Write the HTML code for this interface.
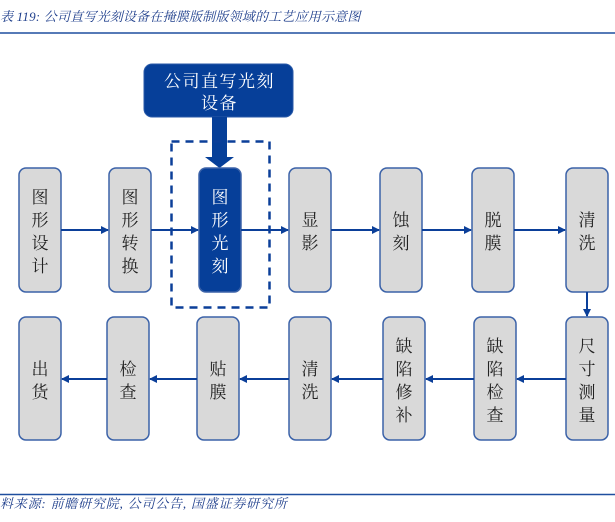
<!DOCTYPE html>
<html><head><meta charset="utf-8"><style>
html,body{margin:0;padding:0;background:#fff;width:615px;height:522px;overflow:hidden}
svg{display:block}
.t{font-family:"Liberation Serif","Noto Serif CJK SC",serif;font-size:17px;fill:#222;text-anchor:middle}
.ti{font-family:"Liberation Serif","Noto Serif CJK SC",serif;font-style:italic;font-size:13px;fill:#1f3f8c}
</style></head><body>
<svg width="615" height="522" viewBox="0 0 615 522" xmlns="http://www.w3.org/2000/svg">
<defs><marker id="a" markerWidth="8" markerHeight="8" refX="7" refY="4" orient="auto" markerUnits="userSpaceOnUse" viewBox="0 0 8 8"><path d="M0,0L8,4L0,8z" fill="#0b3f99"/></marker></defs>
<text class="ti" x="0" y="21" style="letter-spacing:0.2px">表 119:  公司直写光刻设备在掩膜版制版领域的工艺应用示意图</text>
<line x1="0" y1="33" x2="615" y2="33" stroke="#1f4f9f" stroke-width="1.5"/>
<rect x="144" y="64" width="149" height="53" rx="8" fill="#063f99" stroke="#2a5aa8"/>
<text class="t" x="219.5" y="87" style="fill:#fff;font-size:17px;letter-spacing:1.5px">公司直写光刻</text>
<text class="t" x="219.5" y="109" style="fill:#fff;font-size:17px;letter-spacing:1.5px">设备</text>
<path d="M212,117h15v40h7l-14.5,11l-14.5,-11h7z" fill="#063f99"/>
<rect x="171.5" y="141.5" width="98" height="166" fill="none" stroke="#0b3f99" stroke-width="2.5" stroke-dasharray="8,6"/>
<g stroke="#3b62a8" stroke-width="1.5" fill="#d9d9d9">
<rect x="19" y="168" width="42" height="124" rx="7"/>
<rect x="109" y="168" width="42" height="124" rx="7"/>
<rect x="199" y="168" width="42" height="124" rx="7" fill="#063f99"/>
<rect x="289" y="168" width="42" height="124" rx="7"/>
<rect x="380" y="168" width="42" height="124" rx="7"/>
<rect x="472" y="168" width="42" height="124" rx="7"/>
<rect x="566" y="168" width="42" height="124" rx="7"/>
<rect x="19" y="317" width="42" height="123" rx="7"/>
<rect x="107" y="317" width="42" height="123" rx="7"/>
<rect x="197" y="317" width="42" height="123" rx="7"/>
<rect x="289" y="317" width="42" height="123" rx="7"/>
<rect x="383" y="317" width="42" height="123" rx="7"/>
<rect x="474" y="317" width="42" height="123" rx="7"/>
<rect x="566" y="317" width="42" height="123" rx="7"/>
</g>
<g stroke="#0b3f99" stroke-width="2" marker-end="url(#a)">
<line x1="61" y1="230" x2="108" y2="230"/>
<line x1="151" y1="230" x2="198" y2="230"/>
<line x1="241" y1="230" x2="288" y2="230"/>
<line x1="331" y1="230" x2="379" y2="230"/>
<line x1="422" y1="230" x2="471" y2="230"/>
<line x1="514" y1="230" x2="565" y2="230"/>
<line x1="587" y1="292" x2="587" y2="316"/>
<line x1="566" y1="379" x2="517" y2="379"/>
<line x1="474" y1="379" x2="426" y2="379"/>
<line x1="383" y1="379" x2="332" y2="379"/>
<line x1="289" y1="379" x2="240" y2="379"/>
<line x1="197" y1="379" x2="150" y2="379"/>
<line x1="107" y1="379" x2="62" y2="379"/>
</g>
<g class="t">
<text x="40" y="203">图</text><text x="40" y="226">形</text><text x="40" y="249">设</text><text x="40" y="272">计</text>
<text x="130" y="203">图</text><text x="130" y="226">形</text><text x="130" y="249">转</text><text x="130" y="272">换</text>
<g style="fill:#fff"><text x="220" y="203">图</text><text x="220" y="226">形</text><text x="220" y="249">光</text><text x="220" y="272">刻</text></g>
<text x="310" y="226">显</text><text x="310" y="249">影</text>
<text x="401" y="226">蚀</text><text x="401" y="249">刻</text>
<text x="493" y="226">脱</text><text x="493" y="249">膜</text>
<text x="587" y="226">清</text><text x="587" y="249">洗</text>
<text x="587" y="352">尺</text><text x="587" y="375">寸</text><text x="587" y="398">测</text><text x="587" y="421">量</text>
<text x="495" y="352">缺</text><text x="495" y="375">陷</text><text x="495" y="398">检</text><text x="495" y="421">查</text>
<text x="404" y="352">缺</text><text x="404" y="375">陷</text><text x="404" y="398">修</text><text x="404" y="421">补</text>
<text x="310" y="375">清</text><text x="310" y="398">洗</text>
<text x="218" y="375">贴</text><text x="218" y="398">膜</text>
<text x="128" y="375">检</text><text x="128" y="398">查</text>
<text x="40" y="375">出</text><text x="40" y="398">货</text>
</g>
<line x1="0" y1="494.5" x2="615" y2="494.5" stroke="#1f4f9f" stroke-width="1.5"/>
<text class="ti" x="0" y="508" style="letter-spacing:0.8px">料来源:  前瞻研究院,  公司公告,  国盛证券研究所</text>
</svg>
</body></html>
